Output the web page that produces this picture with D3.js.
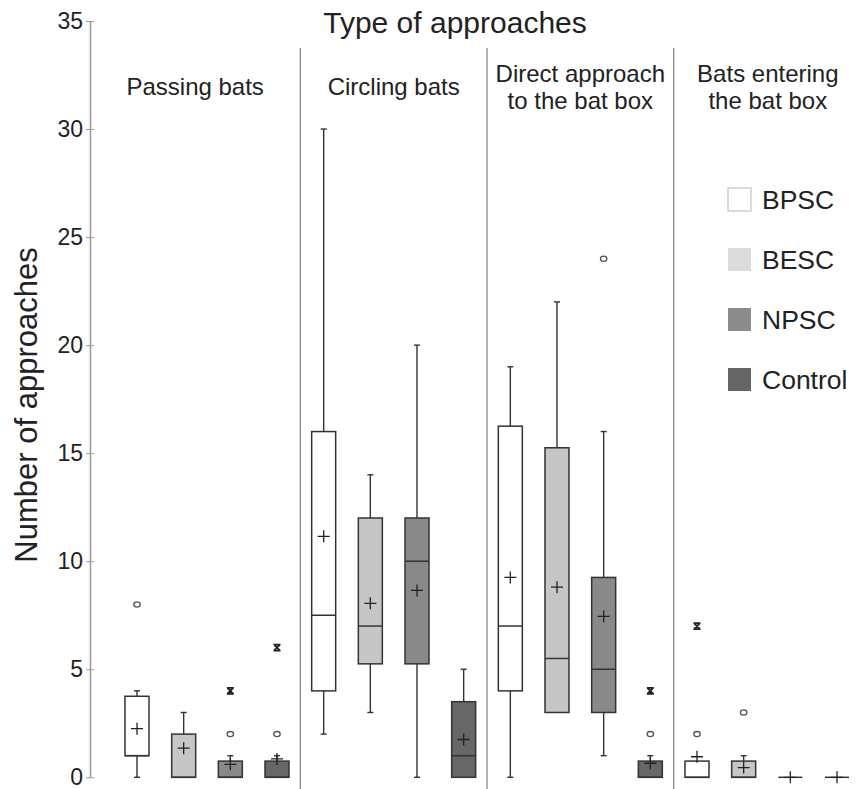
<!DOCTYPE html>
<html>
<head>
<meta charset="utf-8">
<script src="https://cdn.jsdelivr.net/npm/d3@7"></script>
<style>
  body { margin: 0; background: #fff; }
  svg { display: block; font-family: "Liberation Sans", Arial, sans-serif; }
</style>
</head>
<body>
<svg width="862" height="789"></svg>
<script>
// approach types (panels) and treatments (boxes inside each panel)
const types = [["Passing bats"], ["Circling bats"], ["Direct approach", "to the bat box"], ["Bats entering", "the bat box"]];
const series = ["BPSC", "BESC", "NPSC", "Control"];

// one row per approach type, one value per treatment
const whiskerLow  = [[0, 0, 0, 0], [2, 3, 0, 0], [0, 3, 1, 0], [0, 0, 0, 0]];
const q1          = [[1, 0, 0, 0], [4, 5.25, 5.25, 0], [4, 3, 3, 0], [0, 0, 0, 0]];
const medians     = [[1, 0, 0, 0], [7.5, 7, 10, 1], [7, 5.5, 5, 0], [0, 0, 0, 0]];
const q3          = [[3.75, 2, 0.75, 0.75], [16, 12, 12, 3.5], [16.25, 15.25, 9.25, 0.75], [0.75, 0.75, 0, 0]];
const whiskerHigh = [[4, 3, 1, 1], [30, 14, 20, 5], [19, 22, 16, 1], [0.75, 1, 0, 0]];
const means       = [[2.25, 1.35, 0.6, 0.85], [11.15, 8.05, 8.65, 1.75], [9.25, 8.8, 7.45, 0.65], [0.95, 0.45, 0, 0]];
const outliers    = [[[8], [], [2], [2]], [[], [], [], []], [[], [], [24], [2]], [[2], [3], [], []]];
const extremes    = [[[], [], [4], [6]], [[], [], [], []], [[], [], [], [4]], [[7], [], [], []]];

const yTicks = [0, 5, 10, 15, 20, 25, 30, 35];

const boxColors = ["#ffffff", "#c6c6c6", "#898989", "#676767"];
const legendColors = ["#ffffff", "#dcdcdc", "#8c8c8c", "#666666"];

const svg = d3.select("svg");
const axisX = 90;

const y = d3.scaleLinear().domain([0, 35]).range([777.3, 21]);

// outer band per approach type, inner point per treatment
const xGroup = d3.scaleBand().domain(d3.range(types.length)).range([113.67, 860.33]);
const xInner = d3.scalePoint().domain(series).range([0, xGroup.bandwidth()]).padding(0.5);
const boxW = 24;

// y axis
const yAxis = svg.append("g")
    .attr("transform", `translate(${axisX},0)`)
    .call(d3.axisLeft(y).tickValues(yTicks).tickSize(4).tickSizeOuter(0).tickPadding(3));
yAxis.select(".domain").attr("stroke", "#999").attr("stroke-width", 1.5);
yAxis.selectAll(".tick line").attr("stroke", "#999").attr("x2", 4).attr("x1", -4);
yAxis.selectAll(".tick text").attr("font-size", 23).attr("fill", "#222")
    .attr("font-family", "Liberation Sans, Arial, sans-serif");

svg.append("text")
    .attr("transform", `translate(37,405) rotate(-90)`)
    .attr("text-anchor", "middle")
    .attr("font-size", 31)
    .attr("fill", "#222")
    .text("Number of approaches");

svg.append("text")
    .attr("x", 455).attr("y", 33)
    .attr("text-anchor", "middle")
    .attr("font-size", 30)
    .attr("fill", "#222")
    .text("Type of approaches");

// panel dividers and headings
types.forEach((t, g) => {
    const left = g === 0 ? axisX : xGroup(g);
    const right = g === types.length - 1 ? 862 : xGroup(g) + xGroup.bandwidth();
    if (g > 0) {
        svg.append("line")
            .attr("x1", xGroup(g)).attr("x2", xGroup(g))
            .attr("y1", 48).attr("y2", 789)
            .attr("stroke", "#8a8a8a").attr("stroke-width", 1.3);
    }
    const lines = t.length === 1 ? [95] : [82, 109];
    t.forEach((s, i) => {
        svg.append("text")
            .attr("x", (left + right) / 2)
            .attr("y", lines[i])
            .attr("text-anchor", "middle")
            .attr("font-size", 24)
            .attr("fill", "#222")
            .text(s);
    });
});

// boxes
const stroke = "#333";
types.forEach((t, g) => {
    series.forEach((s, k) => {
        const cx = xGroup(g) + xInner(s);
        const grp = svg.append("g");

        // whiskers
        const wl = whiskerLow[g][k], wh = whiskerHigh[g][k];
        if (wh > q3[g][k]) {
            grp.append("line").attr("x1", cx).attr("x2", cx)
                .attr("y1", y(q3[g][k])).attr("y2", y(wh))
                .attr("stroke", stroke).attr("stroke-width", 1.4);
            grp.append("line").attr("x1", cx - 3).attr("x2", cx + 3)
                .attr("y1", y(wh)).attr("y2", y(wh))
                .attr("stroke", stroke).attr("stroke-width", 1.4);
        }
        if (wl < q1[g][k]) {
            grp.append("line").attr("x1", cx).attr("x2", cx)
                .attr("y1", y(q1[g][k])).attr("y2", y(wl))
                .attr("stroke", stroke).attr("stroke-width", 1.4);
            grp.append("line").attr("x1", cx - 3).attr("x2", cx + 3)
                .attr("y1", y(wl)).attr("y2", y(wl))
                .attr("stroke", stroke).attr("stroke-width", 1.4);
        }

        // box
        grp.append("rect")
            .attr("x", cx - boxW / 2)
            .attr("y", y(q3[g][k]))
            .attr("width", boxW)
            .attr("height", y(q1[g][k]) - y(q3[g][k]))
            .attr("fill", boxColors[k])
            .attr("stroke", stroke)
            .attr("stroke-width", 1.5);

        grp.append("line")
            .attr("x1", cx - boxW / 2).attr("x2", cx + boxW / 2)
            .attr("y1", y(medians[g][k])).attr("y2", y(medians[g][k]))
            .attr("stroke", stroke).attr("stroke-width", 1.5);

        // mean marker
        const my = y(means[g][k]);
        grp.append("path")
            .attr("d", `M${cx - 6},${my}H${cx + 6}M${cx},${my - 6}V${my + 6}`)
            .attr("stroke", "#222").attr("stroke-width", 1.3).attr("fill", "none");

        // mild outliers
        outliers[g][k].forEach(v => {
            grp.append("ellipse")
                .attr("cx", cx).attr("cy", y(v))
                .attr("rx", 3.2).attr("ry", 2.6)
                .attr("fill", "none").attr("stroke", "#555").attr("stroke-width", 1.3);
        });

        // extreme values
        extremes[g][k].forEach(v => {
            const ey = y(v);
            grp.append("path")
                .attr("d", `M${cx - 3},${ey - 3}L${cx + 3},${ey + 3}M${cx + 3},${ey - 3}L${cx - 3},${ey + 3}` +
                           `M${cx - 3.5},${ey - 3}H${cx + 3.5}M${cx - 3.5},${ey + 3}H${cx + 3.5}`)
                .attr("stroke", "#222").attr("stroke-width", 1.8).attr("fill", "none");
        });
    });
});

// legend
const legend = svg.append("g").attr("transform", "translate(728,188)");
series.forEach((s, k) => {
    const row = legend.append("g").attr("transform", `translate(0,${k * 60})`);
    row.append("rect")
        .attr("width", 23).attr("height", 23)
        .attr("fill", legendColors[k])
        .attr("stroke", k === 0 ? "#cfcfcf" : "none")
        .attr("stroke-width", 1.5);
    row.append("text")
        .attr("x", 34).attr("y", 21)
        .attr("font-size", 26.5)
        .attr("fill", "#222")
        .text(s);
});
</script>
</body>
</html>
